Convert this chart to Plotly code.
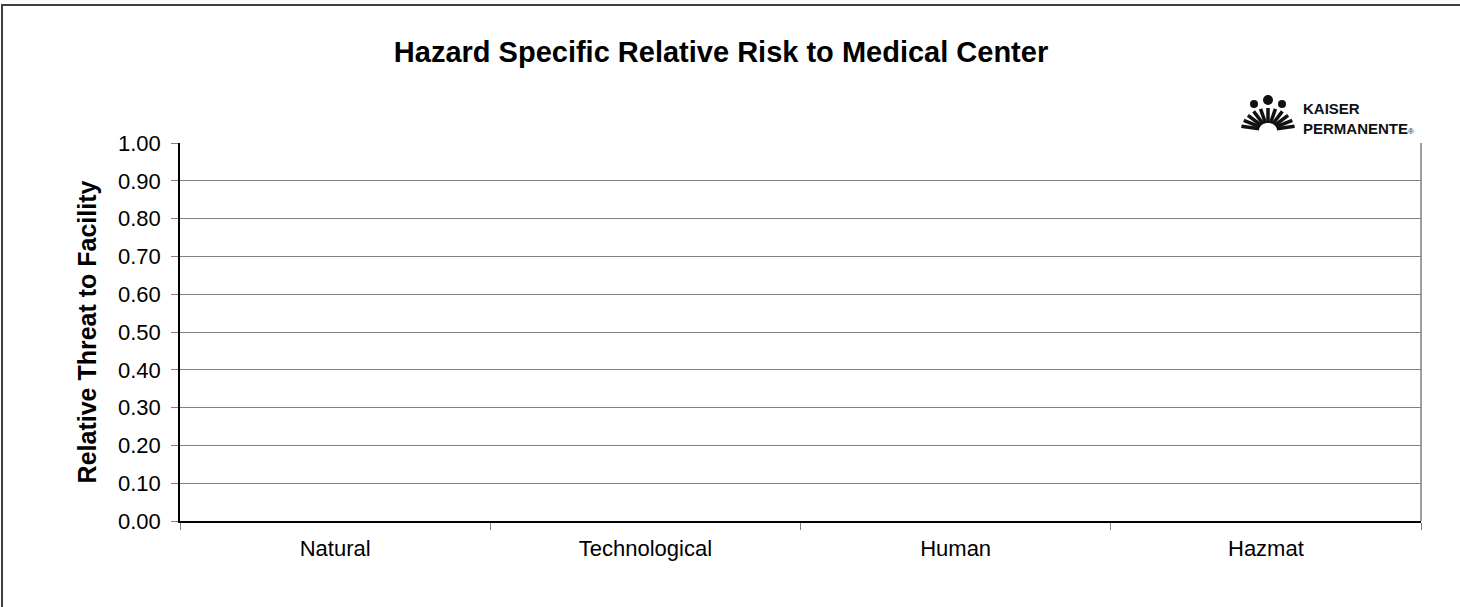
import math
import plotly.graph_objects as go

categories = ["Natural", "Technological", "Human", "Hazmat"]
values = [None, None, None, None]
y_ticks = [0.0, 0.1, 0.2, 0.3, 0.4, 0.5, 0.6, 0.7, 0.8, 0.9, 1.0]

W, H = 1460, 607
L, R, T, B = 180, 39, 143, 86
PX0, PX1 = L, W - R
PY0, PY1 = T, H - B
FONT = "Liberation Sans, Arial, sans-serif"


def px(x):
    return (x - PX0) / (PX1 - PX0)


def py(y):
    return (PY1 - y) / (PY1 - PY0)


fig = go.Figure()
fig.add_trace(go.Bar(x=categories, y=values, marker=dict(color="#9999FF", line=dict(width=0)),
                     showlegend=False, hoverinfo="skip"))

shapes = []
# outer chart border
shapes.append(dict(type="rect", xref="paper", yref="paper",
                   x0=px(2), x1=px(W + 20), y0=py(5), y1=py(H + 20),
                   line=dict(color="#404040", width=2), layer="below"))
# right plot border
shapes.append(dict(type="line", xref="paper", yref="paper", x0=1, x1=1, y0=0, y1=1,
                   line=dict(color="#808080", width=1.5)))

# logo: fan of rays
cx, cy = 1268, 130
for i in range(11):
    a = math.radians(10 + i * 16)
    x0, y0 = cx + 9 * math.cos(a), cy - 7 * math.sin(a)
    x1, y1 = cx + 27 * math.cos(a), cy - 22 * math.sin(a)
    shapes.append(dict(type="line", xref="paper", yref="paper",
                       x0=px(x0), y0=py(y0), x1=px(x1), y1=py(y1),
                       line=dict(color="#111111", width=3.5)))
# heads
for hx, hy, r in [(1254, 104, 4), (1268, 100, 5), (1282, 104, 4)]:
    shapes.append(dict(type="circle", xref="paper", yref="paper",
                       x0=px(hx - r), x1=px(hx + r), y0=py(hy + r), y1=py(hy - r),
                       fillcolor="#111111", line=dict(width=0)))

annotations = [
    dict(text="<b>KAISER</b><br><b>PERMANENTE</b><span style='font-size:8px'>®</span>",
         xref="paper", yref="paper", x=px(1301), y=py(118),
         xanchor="left", yanchor="middle", align="left", showarrow=False,
         font=dict(family=FONT, size=15, color="#111111")),
]

fig.update_layout(
    width=W, height=H,
    margin=dict(l=L, r=R, t=T, b=B),
    paper_bgcolor="white", plot_bgcolor="white",
    title=dict(text="<b>Hazard Specific Relative Risk to Medical Center</b>",
               x=721 / W, xanchor="center", xref="container",
               y=1 - 52 / H, yanchor="middle", yref="container",
               font=dict(family=FONT, size=29, color="black")),
    font=dict(family=FONT, size=22, color="black"),
    shapes=shapes,
    annotations=annotations,
    bargap=0.5,
)

fig.update_yaxes(range=[0, 1], tickvals=y_ticks, tickformat=".2f",
                 ticks="outside", ticklen=7, tickcolor="#808080", tickwidth=1,
                 showline=True, linecolor="black", linewidth=1.5,
                 showgrid=True, gridcolor="#808080", gridwidth=1,
                 zeroline=False, fixedrange=True, ticklabelstandoff=6,
                 title=dict(text="<b>Relative Threat to Facility</b>", standoff=14,
                            font=dict(family=FONT, size=25, color="black")),
                 tickfont=dict(size=22))
fig.update_xaxes(type="category", tickson="boundaries",
                 ticks="outside", ticklen=7, tickcolor="#808080", tickwidth=1,
                 showline=True, linecolor="black", linewidth=1.5,
                 showgrid=False, zeroline=False, fixedrange=True,
                 tickfont=dict(size=22), ticklabelstandoff=7)

fig.write_html("out.html", config={"displayModeBar": False},
               post_script="document.body.style.margin='0';")
